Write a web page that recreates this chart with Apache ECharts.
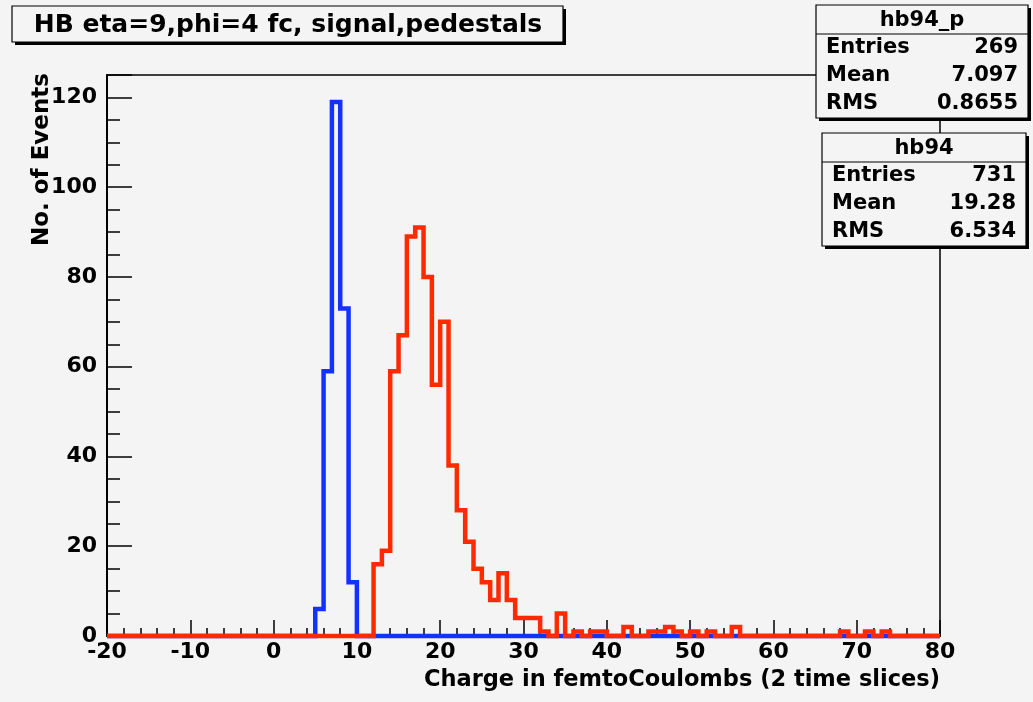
<!DOCTYPE html>
<html>
<head>
<meta charset="utf-8">
<script src="https://cdn.jsdelivr.net/npm/echarts@6/dist/echarts.min.js"></script>
<style>
  html, body { margin: 0; padding: 0; background: #f4f4f4; }
  #chart { width: 1033px; height: 702px; }
</style>
</head>
<body>
<div id="chart"></div>
<script>
// Histogram binning: 100 bins of width 1 fC starting at -20 fC
const binLowEdge = -20;
const binWidth = 1;

// hb94_p: pedestal counts per bin (bins -20 ... 79)
const pedestalCounts = [
  0, 0, 0, 0, 0, 0, 0, 0, 0, 0,      // -20 .. -11
  0, 0, 0, 0, 0, 0, 0, 0, 0, 0,      // -10 .. -1
  0, 0, 0, 0, 0, 6, 59, 119, 73, 12, //   0 .. 9
  0, 0, 0, 0, 0, 0, 0, 0, 0, 0,      //  10 .. 19
  0, 0, 0, 0, 0, 0, 0, 0, 0, 0,      //  20 .. 29
  0, 0, 0, 0, 0, 0, 0, 0, 0, 0,      //  30 .. 39
  0, 0, 0, 0, 0, 0, 0, 0, 0, 0,      //  40 .. 49
  0, 0, 0, 0, 0, 0, 0, 0, 0, 0,      //  50 .. 59
  0, 0, 0, 0, 0, 0, 0, 0, 0, 0,      //  60 .. 69
  0, 0, 0, 0, 0, 0, 0, 0, 0, 0       //  70 .. 79
];

// hb94: signal counts per bin (bins -20 ... 79)
const signalCounts = [
  0, 0, 0, 0, 0, 0, 0, 0, 0, 0,         // -20 .. -11
  0, 0, 0, 0, 0, 0, 0, 0, 0, 0,         // -10 .. -1
  0, 0, 0, 0, 0, 0, 0, 0, 0, 0,         //   0 .. 9
  0, 0, 16, 19, 59, 67, 89, 91, 80, 56, //  10 .. 19
  70, 38, 28, 21, 15, 12, 8, 14, 8, 4,  //  20 .. 29
  4, 4, 1, 0, 5, 0, 1, 0, 1, 1,         //  30 .. 39
  0, 0, 2, 0, 0, 1, 1, 2, 1, 0,         //  40 .. 49
  1, 0, 1, 0, 0, 2, 0, 0, 0, 0,         //  50 .. 59
  0, 0, 0, 0, 0, 0, 0, 0, 1, 0,         //  60 .. 69
  0, 1, 0, 1, 0, 0, 0, 0, 0, 0          //  70 .. 79
];

const xTickLabels = ['-20', '-10', '0', '10', '20', '30', '40', '50', '60', '70', '80'];
const yTickLabels = ['0', '20', '40', '60', '80', '100', '120'];

const pedestalStats = { name: 'hb94_p', entries: '269', mean: '7.097', rms: '0.8655' };
const signalStats = { name: 'hb94', entries: '731', mean: '19.28', rms: '6.534' };

const titleText = 'HB eta=9,phi=4 fc, signal,pedestals';
const xTitle = 'Charge in femtoCoulombs (2 time slices)';
const yTitle = 'No. of Events';

// Turn per-bin counts into step-line vertices (lower edge of every bin + closing edge)
function histPoints(counts) {
  const pts = counts.map((c, i) => [binLowEdge + i * binWidth, c]);
  pts.push([binLowEdge + counts.length * binWidth, counts[counts.length - 1]]);
  return pts;
}

const FONT = 'DejaVu Sans';
const BG = '#f4f4f4';
const BLUE = '#1432ff';
const RED = '#ff2a00';

const xMin = Number(xTickLabels[0]);
const xMax = Number(xTickLabels[xTickLabels.length - 1]);
const yMajor = Number(yTickLabels[1]) - Number(yTickLabels[0]);
const yLabelMax = Number(yTickLabels[yTickLabels.length - 1]);
const yMax = 125;

function statsBox(x, y, w, h, headH, stats) {
  const rowH = (h - headH) / 3;
  const rows = [['Entries', stats.entries], ['Mean', stats.mean], ['RMS', stats.rms]];
  const children = [
    { type: 'rect', shape: { x: x + 3, y: y + 3, width: w, height: h }, style: { fill: '#000' } },
    { type: 'rect', shape: { x: x, y: y, width: w, height: h }, style: { fill: BG, stroke: '#000', lineWidth: 1.2 } },
    { type: 'line', shape: { x1: x, y1: y + headH, x2: x + w, y2: y + headH }, style: { stroke: '#000', lineWidth: 1.2 } },
    { type: 'text', x: x + w / 2, y: y + headH / 2 + 1,
      style: { text: stats.name, font: 'bold 21px "' + FONT + '"', fill: '#000', align: 'center', verticalAlign: 'middle' } }
  ];
  rows.forEach((r, i) => {
    const cy = y + headH + rowH * (i + 0.5);
    children.push({ type: 'text', x: x + 10, y: cy,
      style: { text: r[0], font: 'bold 21px "' + FONT + '"', fill: '#000', align: 'left', verticalAlign: 'middle' } });
    children.push({ type: 'text', x: x + w - 10, y: cy,
      style: { text: r[1], font: 'bold 21px "' + FONT + '"', fill: '#000', align: 'right', verticalAlign: 'middle' } });
  });
  return { type: 'group', z: 100, children: children };
}

const chart = echarts.init(document.getElementById('chart'), null, { renderer: 'canvas' });

const labelStyle = { fontFamily: FONT, fontWeight: 'bold', fontSize: 22, color: '#000' };

chart.setOption({
  backgroundColor: BG,
  animation: false,
  grid: {
    left: 107, right: 93, top: 75, bottom: 66,
    show: true, borderColor: '#000', borderWidth: 1.5, backgroundColor: 'transparent'
  },
  xAxis: {
    type: 'value', min: xMin, max: xMax, interval: 10,
    axisLine: { show: true, onZero: false, lineStyle: { color: '#000', width: 2 } },
    axisTick: { show: true, inside: true, length: 16, lineStyle: { color: '#000', width: 1.5 } },
    minorTick: { show: true, splitNumber: 5, length: 8, lineStyle: { color: '#000', width: 1.5 } },
    splitLine: { show: false },
    axisLabel: Object.assign({ margin: 5, formatter: v => (xTickLabels.indexOf(String(v)) >= 0 ? String(v) : '') }, labelStyle)
  },
  yAxis: [
    {
      // minor ticks
      type: 'value', min: 0, max: yMax, interval: 5, position: 'left',
      axisLine: { show: true, onZero: false, lineStyle: { color: '#000', width: 2 } },
      axisTick: { show: true, inside: true, length: 13, lineStyle: { color: '#000', width: 1.5 } },
      splitLine: { show: false },
      axisLabel: { show: false }
    },
    {
      // major ticks + labels
      type: 'value', min: 0, max: yMax, interval: yMajor, position: 'left',
      axisLine: { show: false, onZero: false },
      axisTick: { show: true, inside: true, length: 25, lineStyle: { color: '#000', width: 1.5 } },
      splitLine: { show: false },
      axisLabel: Object.assign({ margin: 10, formatter: v => (v <= yLabelMax && yTickLabels.indexOf(String(v)) >= 0 ? String(v) : '') }, labelStyle)
    }
  ],
  series: [
    {
      name: pedestalStats.name, type: 'line', step: 'end', yAxisIndex: 0,
      data: histPoints(pedestalCounts), showSymbol: false, symbol: 'none', clip: false,
      lineStyle: { color: BLUE, width: 4.5, join: 'miter' }, z: 3
    },
    {
      name: signalStats.name, type: 'line', step: 'end', yAxisIndex: 0,
      data: histPoints(signalCounts), showSymbol: false, symbol: 'none', clip: false,
      lineStyle: { color: RED, width: 4.5, join: 'miter' }, z: 4
    }
  ],
  graphic: [
    {
      type: 'group', z: 100,
      children: [
        { type: 'rect', shape: { x: 15, y: 9, width: 551, height: 36 }, style: { fill: '#000' } },
        { type: 'rect', shape: { x: 12, y: 6, width: 551, height: 36 }, style: { fill: BG, stroke: '#000', lineWidth: 1.2 } },
        { type: 'text', x: 288, y: 25,
          style: { text: titleText, font: 'bold 25px "' + FONT + '"', fill: '#000', align: 'center', verticalAlign: 'middle' } }
      ]
    },
    statsBox(816, 5, 212, 113, 29, pedestalStats),
    statsBox(822, 133, 204, 113, 29, signalStats),
    { type: 'text', z: 50, x: 940, y: 680,
      style: { text: xTitle, font: 'bold 22.5px "' + FONT + '"', fill: '#000', align: 'right', verticalAlign: 'middle' } },
    { type: 'text', z: 50, x: 42, y: 73, rotation: Math.PI / 2,
      style: { text: yTitle, font: 'bold 23px "' + FONT + '"', fill: '#000', align: 'right', verticalAlign: 'middle' } }
  ]
});
</script>
</body>
</html>
